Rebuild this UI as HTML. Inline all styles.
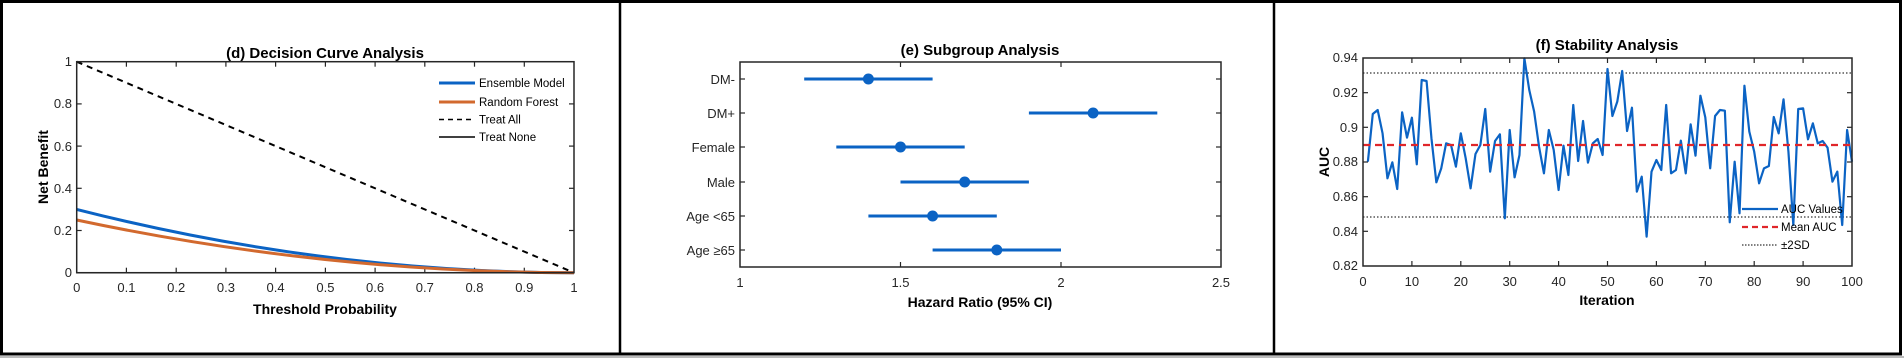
<!DOCTYPE html>
<html><head><meta charset="utf-8"><style>
html,body{margin:0;padding:0;background:#fff;}
svg{display:block;font-family:"Liberation Sans",Arial,sans-serif;}
.t{font-size:13px;fill:#262626;}
.b{font-weight:bold;fill:#000;}
.ax{fill:none;stroke:#262626;stroke-width:1.5;}
.tk{stroke:#262626;stroke-width:1.2;}
.lg{font-size:11.5px;fill:#000;}
</style></head><body>
<svg width="1904" height="358" viewBox="0 0 1904 358" xmlns="http://www.w3.org/2000/svg">
<rect x="0" y="0" width="1904" height="358" fill="#fff"/>
<rect x="0" y="356" width="1904" height="2" fill="#bbb"/>
<rect x="1.5" y="1.5" width="1899" height="352.5" fill="none" stroke="#000" stroke-width="3"/>
<line x1="620" y1="0" x2="620" y2="355" stroke="#000" stroke-width="2.5"/>
<line x1="1274" y1="0" x2="1274" y2="355" stroke="#000" stroke-width="2.5"/>

<!-- (d) -->
<text x="325" y="58" text-anchor="middle" class="b" font-size="15">(d) Decision Curve Analysis</text>
<g class="tk">
<line x1="126.4" y1="272.7" x2="126.4" y2="267.7"/><line x1="176.2" y1="272.7" x2="176.2" y2="267.7"/><line x1="225.9" y1="272.7" x2="225.9" y2="267.7"/><line x1="275.6" y1="272.7" x2="275.6" y2="267.7"/><line x1="325.4" y1="272.7" x2="325.4" y2="267.7"/><line x1="375.1" y1="272.7" x2="375.1" y2="267.7"/><line x1="424.8" y1="272.7" x2="424.8" y2="267.7"/><line x1="474.5" y1="272.7" x2="474.5" y2="267.7"/><line x1="524.3" y1="272.7" x2="524.3" y2="267.7"/>
<line x1="126.4" y1="61.7" x2="126.4" y2="66.7"/><line x1="176.2" y1="61.7" x2="176.2" y2="66.7"/><line x1="225.9" y1="61.7" x2="225.9" y2="66.7"/><line x1="275.6" y1="61.7" x2="275.6" y2="66.7"/><line x1="325.4" y1="61.7" x2="325.4" y2="66.7"/><line x1="375.1" y1="61.7" x2="375.1" y2="66.7"/><line x1="424.8" y1="61.7" x2="424.8" y2="66.7"/><line x1="474.5" y1="61.7" x2="474.5" y2="66.7"/><line x1="524.3" y1="61.7" x2="524.3" y2="66.7"/>
<line x1="76.7" y1="230.5" x2="81.7" y2="230.5"/><line x1="76.7" y1="188.3" x2="81.7" y2="188.3"/><line x1="76.7" y1="146.1" x2="81.7" y2="146.1"/><line x1="76.7" y1="103.9" x2="81.7" y2="103.9"/>
<line x1="574" y1="230.5" x2="569" y2="230.5"/><line x1="574" y1="188.3" x2="569" y2="188.3"/><line x1="574" y1="146.1" x2="569" y2="146.1"/><line x1="574" y1="103.9" x2="569" y2="103.9"/>
</g>
<g class="t" text-anchor="middle">
<text x="76.7" y="292">0</text><text x="126.4" y="292">0.1</text><text x="176.2" y="292">0.2</text><text x="225.9" y="292">0.3</text><text x="275.6" y="292">0.4</text><text x="325.4" y="292">0.5</text><text x="375.1" y="292">0.6</text><text x="424.8" y="292">0.7</text><text x="474.5" y="292">0.8</text><text x="524.3" y="292">0.9</text><text x="574" y="292">1</text>
</g>
<g class="t" text-anchor="end">
<text x="72" y="277">0</text><text x="72" y="235">0.2</text><text x="72" y="193">0.4</text><text x="72" y="151">0.6</text><text x="72" y="108">0.8</text><text x="72" y="66">1</text>
</g>
<text x="325" y="314" text-anchor="middle" class="b" font-size="14">Threshold Probability</text>
<text transform="translate(48,167) rotate(-90)" text-anchor="middle" class="b" font-size="14">Net Benefit</text>
<line x1="76.7" y1="61.7" x2="574" y2="272.7" stroke="#000" stroke-width="2" stroke-dasharray="6,5"/>
<path d="M76.7,209.4 Q325.3,272.7 574,272.7" fill="none" stroke="#0b63c4" stroke-width="3"/>
<path d="M76.7,220 Q325.3,272.7 574,272.7" fill="none" stroke="#d2692e" stroke-width="3"/>
<line x1="76.7" y1="272.7" x2="574" y2="272.7" stroke="#000" stroke-width="1.5"/>
<rect x="76.7" y="61.7" width="497.3" height="211" class="ax"/>
<line x1="439" y1="83" x2="475" y2="83" stroke="#0b63c4" stroke-width="3"/>
<line x1="439" y1="102" x2="475" y2="102" stroke="#d2692e" stroke-width="3"/>
<line x1="439" y1="119.5" x2="475" y2="119.5" stroke="#000" stroke-width="1.5" stroke-dasharray="5,4"/>
<line x1="439" y1="137" x2="475" y2="137" stroke="#000" stroke-width="1.5"/>
<g class="lg"><text x="479" y="87">Ensemble Model</text><text x="479" y="106">Random Forest</text><text x="479" y="123.5">Treat All</text><text x="479" y="141">Treat None</text></g>

<!-- (e) -->
<text x="980" y="55" text-anchor="middle" class="b" font-size="15">(e) Subgroup Analysis</text>
<g class="tk">
<line x1="900.5" y1="267" x2="900.5" y2="262"/><line x1="1061" y1="267" x2="1061" y2="262"/>
<line x1="900.5" y1="62" x2="900.5" y2="67"/><line x1="1061" y1="62" x2="1061" y2="67"/>
<line x1="740" y1="79" x2="745" y2="79"/><line x1="740" y1="113" x2="745" y2="113"/><line x1="740" y1="147" x2="745" y2="147"/><line x1="740" y1="182" x2="745" y2="182"/><line x1="740" y1="216" x2="745" y2="216"/><line x1="740" y1="250" x2="745" y2="250"/>
<line x1="1221" y1="79" x2="1216" y2="79"/><line x1="1221" y1="113" x2="1216" y2="113"/><line x1="1221" y1="147" x2="1216" y2="147"/><line x1="1221" y1="182" x2="1216" y2="182"/><line x1="1221" y1="216" x2="1216" y2="216"/><line x1="1221" y1="250" x2="1216" y2="250"/>
</g>
<g class="t" text-anchor="middle"><text x="740" y="287">1</text><text x="900.5" y="287">1.5</text><text x="1061" y="287">2</text><text x="1221" y="287">2.5</text></g>
<g class="t" text-anchor="end"><text x="735" y="84">DM-</text><text x="735" y="118">DM+</text><text x="735" y="152">Female</text><text x="735" y="187">Male</text><text x="735" y="221">Age &lt;65</text><text x="735" y="255">Age ≥65</text></g>
<text x="980" y="307" text-anchor="middle" class="b" font-size="14">Hazard Ratio (95% CI)</text>
<g stroke="#0b63c4" stroke-width="3" fill="#0b63c4">
<line x1="804.2" y1="79" x2="932.6" y2="79"/><circle cx="868.4" cy="79" r="5.5" stroke="none"/>
<line x1="1028.9" y1="113" x2="1157.3" y2="113"/><circle cx="1093.1" cy="113" r="5.5" stroke="none"/>
<line x1="836.3" y1="147" x2="964.7" y2="147"/><circle cx="900.5" cy="147" r="5.5" stroke="none"/>
<line x1="900.5" y1="182" x2="1028.9" y2="182"/><circle cx="964.7" cy="182" r="5.5" stroke="none"/>
<line x1="868.4" y1="216" x2="996.8" y2="216"/><circle cx="932.6" cy="216" r="5.5" stroke="none"/>
<line x1="932.6" y1="250" x2="1061" y2="250"/><circle cx="996.8" cy="250" r="5.5" stroke="none"/>
</g>
<rect x="740" y="62" width="481" height="205" class="ax"/>

<!-- (f) -->
<text x="1607" y="50" text-anchor="middle" class="b" font-size="15">(f) Stability Analysis</text>
<g class="tk">
<line x1="1411.9" y1="266" x2="1411.9" y2="261"/><line x1="1460.8" y1="266" x2="1460.8" y2="261"/><line x1="1509.7" y1="266" x2="1509.7" y2="261"/><line x1="1558.6" y1="266" x2="1558.6" y2="261"/><line x1="1607.5" y1="266" x2="1607.5" y2="261"/><line x1="1656.4" y1="266" x2="1656.4" y2="261"/><line x1="1705.3" y1="266" x2="1705.3" y2="261"/><line x1="1754.2" y1="266" x2="1754.2" y2="261"/><line x1="1803.1" y1="266" x2="1803.1" y2="261"/>
<line x1="1411.9" y1="58" x2="1411.9" y2="63"/><line x1="1460.8" y1="58" x2="1460.8" y2="63"/><line x1="1509.7" y1="58" x2="1509.7" y2="63"/><line x1="1558.6" y1="58" x2="1558.6" y2="63"/><line x1="1607.5" y1="58" x2="1607.5" y2="63"/><line x1="1656.4" y1="58" x2="1656.4" y2="63"/><line x1="1705.3" y1="58" x2="1705.3" y2="63"/><line x1="1754.2" y1="58" x2="1754.2" y2="63"/><line x1="1803.1" y1="58" x2="1803.1" y2="63"/>
<line x1="1363" y1="231.3" x2="1368" y2="231.3"/><line x1="1363" y1="196.7" x2="1368" y2="196.7"/><line x1="1363" y1="162" x2="1368" y2="162"/><line x1="1363" y1="127.3" x2="1368" y2="127.3"/><line x1="1363" y1="92.7" x2="1368" y2="92.7"/>
<line x1="1852" y1="231.3" x2="1847" y2="231.3"/><line x1="1852" y1="196.7" x2="1847" y2="196.7"/><line x1="1852" y1="162" x2="1847" y2="162"/><line x1="1852" y1="127.3" x2="1847" y2="127.3"/><line x1="1852" y1="92.7" x2="1847" y2="92.7"/>
</g>
<g class="t" text-anchor="middle"><text x="1363" y="286">0</text><text x="1411.9" y="286">10</text><text x="1460.8" y="286">20</text><text x="1509.7" y="286">30</text><text x="1558.6" y="286">40</text><text x="1607.5" y="286">50</text><text x="1656.4" y="286">60</text><text x="1705.3" y="286">70</text><text x="1754.2" y="286">80</text><text x="1803.1" y="286">90</text><text x="1852" y="286">100</text></g>
<g class="t" text-anchor="end"><text x="1358" y="270">0.82</text><text x="1358" y="236">0.84</text><text x="1358" y="201">0.86</text><text x="1358" y="166">0.88</text><text x="1358" y="132">0.9</text><text x="1358" y="97">0.92</text><text x="1358" y="62">0.94</text></g>
<text x="1607" y="305" text-anchor="middle" class="b" font-size="14">Iteration</text>
<text transform="translate(1329,162) rotate(-90)" text-anchor="middle" class="b" font-size="14">AUC</text>
<line x1="1363" y1="73" x2="1852" y2="73" stroke="#000" stroke-width="1" stroke-dasharray="1.5,2"/>
<line x1="1363" y1="217" x2="1852" y2="217" stroke="#000" stroke-width="1" stroke-dasharray="1.5,2"/>
<g transform="translate(1363,55) scale(4.89,0.33333)">
<polyline vector-effect="non-scaling-stroke" fill="none" stroke="#0b63c4" stroke-width="2.2" stroke-linejoin="round" points="1,320 2,177 3,165 4,235 5,370 6,322 7,402 8,172 9,248 10,188 11,328 12,75 13,78 14,250 15,382 16,340 17,265 18,270 19,335 20,235 21,310 22,400 23,297 24,270 25,162 26,350 27,258 28,238 29,490 30,225 31,367 32,300 33,10 34,105 35,170 36,275 37,355 38,225 39,285 40,405 41,272 42,360 43,150 44,318 45,198 46,323 47,265 48,252 49,300 50,42 51,183 52,140 53,48 54,228 55,158 56,410 57,365 58,545 59,350 60,315 61,345 62,150 63,355 64,345 65,257 66,355 67,208 68,302 69,122 70,187 71,340 72,183 73,165 74,167 75,502 76,320 77,475 78,92 79,230 80,290 81,385 82,340 83,333 84,186 85,235 86,133 87,290 88,510 89,162 90,160 91,253 92,205 93,265 94,258 95,278 96,380 97,350 98,510 99,225 100,320"/>
</g>
<line x1="1363" y1="145" x2="1852" y2="145" stroke="#e0262a" stroke-width="2.2" stroke-dasharray="7,5"/>
<rect x="1363" y="58" width="489" height="208" class="ax"/>
<line x1="1742" y1="209" x2="1778" y2="209" stroke="#0b63c4" stroke-width="2.2"/>
<line x1="1742" y1="227" x2="1778" y2="227" stroke="#e0262a" stroke-width="2.2" stroke-dasharray="6,4"/>
<line x1="1742" y1="245" x2="1778" y2="245" stroke="#000" stroke-width="1" stroke-dasharray="1.5,1.5"/>
<g class="lg"><text x="1781" y="213">AUC Values</text><text x="1781" y="231">Mean AUC</text><text x="1781" y="249">±2SD</text></g>
</svg>
</body></html>
